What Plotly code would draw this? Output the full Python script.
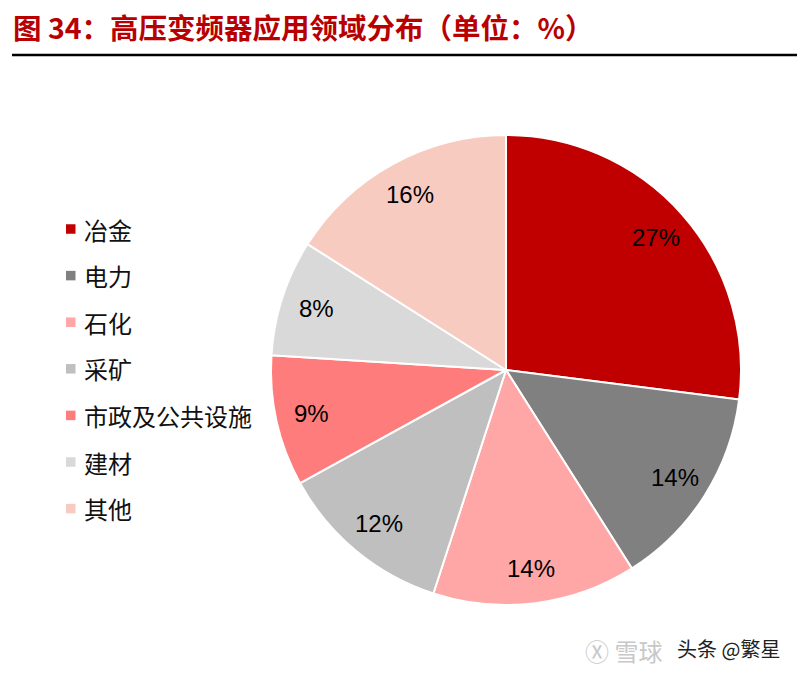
import math
import plotly.graph_objects as go

labels = ["冶金", "电力", "石化", "采矿", "市政及公共设施", "建材", "其他"]
values = [27, 14, 14, 12, 9, 8, 16]
colors = ["#C00000", "#808080", "#FFA6A6", "#BFBFBF", "#FF7C7C", "#D9D9D9", "#F8CBC0"]
title_text = "图 34：高压变频器应用领域分布（单位：%）"

W, H = 800, 677
ML, MR, MT, MB = 271, 59, 135, 72
PW, PH = W - ML - MR, H - MT - MB


def px_x(x):
    return (x - ML) / PW


def px_y(y):
    return 1 - (y - MT) / PH


fig = go.Figure(go.Pie(
    labels=labels, values=values, sort=False, direction="clockwise", rotation=0,
    marker=dict(colors=colors, line=dict(color="white", width=2)),
    textinfo="none", hoverinfo="label+percent", showlegend=False,
))

annotations = []
shapes = []

# slice percentage labels at mid-angle of each slice
total = sum(values)
cum = 0
for v in values:
    mid = (cum + v / 2) / total * 2 * math.pi
    cum += v
    r = 0.85 * 0.5
    annotations.append(dict(
        x=0.5 + r * math.sin(mid), y=0.5 + r * math.cos(mid), xref="paper", yref="paper",
        text=f"{round(v / total * 100)}%", showarrow=False,
        font=dict(family="Liberation Sans, Arial", size=24, color="#000000"),
        xanchor="center", yanchor="middle",
    ))

# manual legend
leg_y0, leg_dy = 229, 46.6
for i, (lab, col) in enumerate(zip(labels, colors)):
    yc = leg_y0 + i * leg_dy
    shapes.append(dict(type="rect", xref="paper", yref="paper",
                       x0=px_x(66), x1=px_x(75.5), y0=px_y(yc + 4.75), y1=px_y(yc - 4.75),
                       fillcolor=col, line=dict(width=0)))
    annotations.append(dict(
        x=px_x(82), y=px_y(yc), xref="paper", yref="paper", text=lab, showarrow=False,
        font=dict(family="Noto Sans CJK SC", size=24, color="#111111"),
        xanchor="left", yanchor="middle",
    ))

# title and rule
annotations.append(dict(
    x=px_x(11), y=px_y(26), xref="paper", yref="paper", text="<b>" + title_text + "</b>",
    showarrow=False, font=dict(family="Noto Sans CJK SC", size=28.5, color="#B80000"),
    xanchor="left", yanchor="middle",
))
shapes.append(dict(type="line", xref="paper", yref="paper",
                   x0=px_x(12), x1=px_x(797), y0=px_y(55), y1=px_y(55),
                   line=dict(color="#000000", width=2.5)))

# watermark
annotations.append(dict(
    x=px_x(583), y=px_y(650), xref="paper", yref="paper", text="Ⓧ 雪球",
    showarrow=False, font=dict(family="Noto Sans CJK SC", size=24, color="#C8C8C8"),
    xanchor="left", yanchor="middle",
))
annotations.append(dict(
    x=px_x(675), y=px_y(648), xref="paper", yref="paper", text="头条 @繁星",
    showarrow=False, font=dict(family="Noto Sans CJK SC", size=20, color="#222222"),
    xanchor="left", yanchor="middle",
))

fig.update_layout(
    width=W, height=H, margin=dict(l=ML, r=MR, t=MT, b=MB),
    paper_bgcolor="white", plot_bgcolor="white",
    showlegend=False, annotations=annotations, shapes=shapes,
)

fig.write_html("out.html")
